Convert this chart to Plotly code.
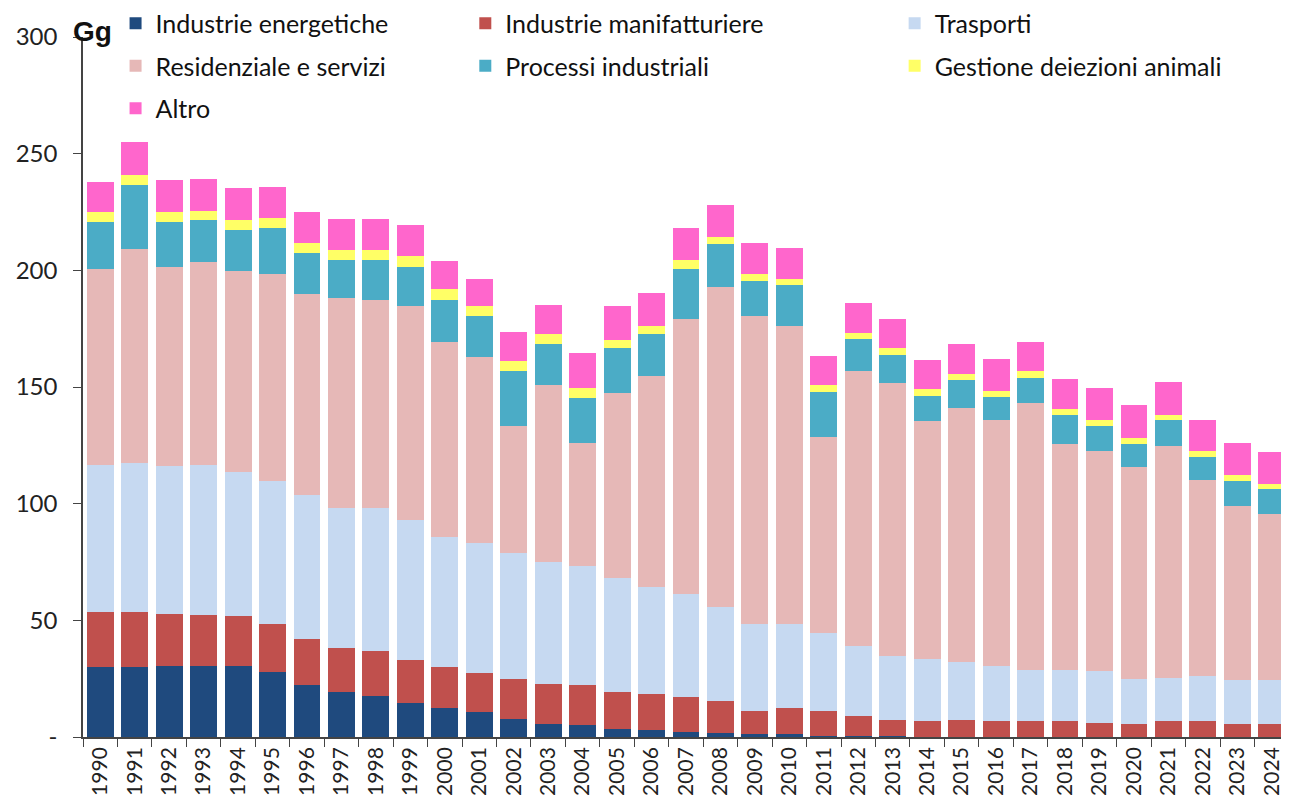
import plotly.graph_objects as go

years = [str(y) for y in range(1990, 2025)]

industrie_energetiche = [29.9, 29.9, 30.4, 30.4, 30.4, 27.7, 22.2, 19.4, 17.7, 14.4,
                         12.3, 10.6, 7.9, 5.6, 5.1, 3.4, 2.9, 2.3, 1.7, 1.3,
                         1.3, 0.6, 0.6, 0.4, 0.1, 0.1, 0.1, 0.1, 0.1, 0.1,
                         0.1, 0.1, 0.1, 0.1, 0.1]
industrie_manifatturiere = [23.5, 23.5, 22.5, 22.0, 21.5, 20.9, 19.7, 18.7, 19.3, 18.8,
                            17.6, 17.0, 17.0, 17.1, 17.1, 16.0, 15.4, 14.8, 13.9, 9.8,
                            11.0, 10.5, 8.4, 7.0, 6.6, 7.3, 6.6, 6.6, 6.6, 6.0,
                            5.5, 6.6, 6.6, 5.5, 5.5]
trasporti = [63.3, 63.9, 63.2, 64.3, 61.5, 61.0, 61.7, 59.9, 61.0, 59.8,
             56.0, 55.6, 53.8, 52.2, 51.1, 48.9, 46.1, 44.1, 40.0, 37.5,
             36.3, 33.6, 30.2, 27.3, 26.9, 24.6, 23.7, 22.0, 22.0, 22.1,
             19.1, 18.7, 19.3, 18.7, 18.7]
residenziale_servizi = [84.0, 91.7, 85.2, 86.7, 86.2, 89.0, 86.1, 90.2, 89.5, 91.9,
                        83.6, 79.7, 54.5, 75.8, 52.7, 79.1, 90.2, 118.1, 137.4, 131.8,
                        127.4, 84.0, 117.5, 117.0, 101.7, 108.9, 105.5, 114.3, 96.7, 94.5,
                        90.9, 99.5, 84.1, 74.7, 71.4]
processi_industriali = [19.9, 27.4, 19.3, 18.3, 17.7, 19.7, 17.6, 16.4, 17.1, 16.4,
                        18.0, 17.5, 23.7, 17.7, 19.3, 19.3, 18.1, 21.4, 18.1, 14.9,
                        17.6, 19.3, 13.7, 12.2, 11.0, 12.0, 9.8, 11.0, 12.6, 10.5,
                        9.8, 11.0, 9.9, 10.6, 10.6]
gestione_deiezioni = [4.3, 4.3, 4.3, 3.7, 4.3, 4.3, 4.4, 4.3, 4.3, 4.8,
                      4.4, 4.3, 4.2, 4.3, 4.3, 3.3, 3.3, 3.9, 3.3, 3.3,
                      2.7, 2.7, 2.7, 2.7, 2.7, 2.7, 2.7, 2.7, 2.7, 2.7,
                      2.7, 2.1, 2.7, 2.7, 2.1]
altro = [13.1, 14.1, 13.7, 13.7, 13.7, 13.3, 13.2, 13.3, 13.3, 13.3,
         12.1, 11.7, 12.6, 12.6, 14.8, 14.9, 14.3, 13.7, 13.8, 13.1,
         13.3, 12.7, 12.8, 12.7, 12.7, 12.7, 13.8, 12.8, 12.7, 13.7,
         14.4, 14.3, 13.2, 13.7, 13.7]

# (name, values, colour, legend column)
series = [
    ("Industrie energetiche", industrie_energetiche, "#1F4A7E", "legend"),
    ("Industrie manifatturiere", industrie_manifatturiere, "#C0504D", "legend2"),
    ("Trasporti", trasporti, "#C6D9F1", "legend3"),
    ("Residenziale e servizi", residenziale_servizi, "#E6B8B7", "legend"),
    ("Processi industriali", processi_industriali, "#4BACC6", "legend2"),
    ("Gestione deiezioni animali", gestione_deiezioni, "#FFFF66", "legend3"),
    ("Altro", altro, "#FF66CC", "legend"),
]

y_tickvals = [0, 50, 100, 150, 200, 250, 300]
y_ticktext = ["-", "50", "100", "150", "200", "250", "300"]

FONT = "Lato, 'Liberation Sans', sans-serif"

fig = go.Figure()
for name, vals, col, lg in series:
    fig.add_trace(go.Bar(
        x=years, y=vals, name=name, legend=lg, legendgroup=name,
        marker=dict(color=col, line=dict(width=0)),
    ))

legend_common = dict(
    orientation="v", yanchor="top", xanchor="left",
    font=dict(family=FONT, size=25, color="#111"),
    bgcolor="rgba(0,0,0,0)", tracegroupgap=7,
    traceorder="grouped",
)
LEG_Y = 1.052

# the page body has an 8px margin, so the figure is sized to fit inside it
fig.update_layout(
    barmode="stack",
    bargap=0.22,
    width=1281, height=794,
    margin=dict(l=75, r=0, t=29, b=65, autoexpand=False),
    plot_bgcolor="white", paper_bgcolor="white",
    font=dict(family=FONT, size=20, color="#222"),
    showlegend=True,
    legend=dict(x=0.027, y=LEG_Y, **legend_common),
    legend2=dict(x=0.317, y=LEG_Y, **legend_common),
    legend3=dict(x=0.673, y=LEG_Y, **legend_common),
    xaxis=dict(
        type="category",
        tickangle=-90,
        ticks="outside", ticklen=8, tickcolor="#444",
        tickson="boundaries",
        showline=True, linecolor="#444", linewidth=1.5,
        showgrid=False, automargin=False,
        tickfont=dict(family=FONT, size=21, color="#222"),
    ),
    yaxis=dict(
        range=[0, 300],
        tickvals=y_tickvals, ticktext=y_ticktext,
        ticks="outside", ticklen=8, tickcolor="#444",
        showline=True, linecolor="#444", linewidth=1.5,
        showgrid=False, zeroline=False, automargin=False,
        ticklabelstandoff=11,
        tickfont=dict(family=FONT, size=24, color="#222"),
    ),
    annotations=[dict(
        text="<b>Gg</b>", xref="paper", yref="paper",
        x=0.0075, y=1.008, xanchor="center", yanchor="middle",
        showarrow=False,
        font=dict(family="'Liberation Sans', Arial, sans-serif", size=28, color="#111"),
    )],
)

fig.write_html("out.html")
